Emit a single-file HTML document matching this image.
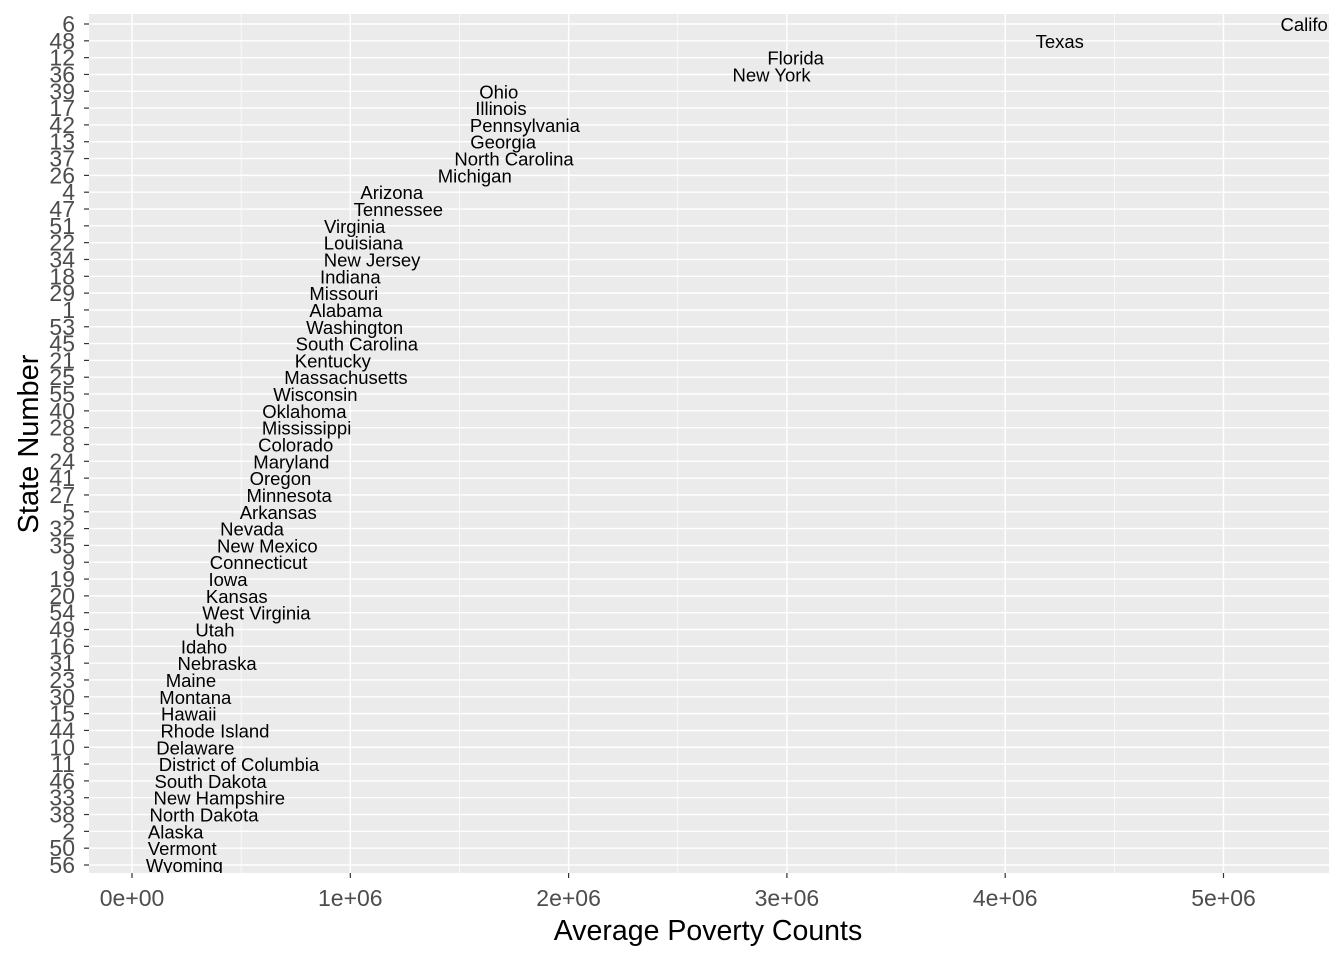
<!DOCTYPE html>
<html><head><meta charset="utf-8"><style>
body{margin:0;background:#fff;}
svg text{font-family:"Liberation Sans",Arial,sans-serif;}
</style></head><body>
<svg id="chart" width="1344" height="960" xmlns="http://www.w3.org/2000/svg">
<defs><clipPath id="pc"><rect x="89" y="14" width="1240" height="859"/></clipPath></defs>
<rect x="89" y="14" width="1240" height="859" fill="#EBEBEB"/>
<g id="grid"></g>
<g id="labels" clip-path="url(#pc)"></g>
<g id="yaxis"></g>
<g id="xaxis"></g>
<text x="708" y="940" font-size="28.5" text-anchor="middle" fill="#000">Average Poverty Counts</text>
<text transform="translate(38,444) rotate(-90)" font-size="29" text-anchor="middle" fill="#000">State Number</text>
</svg>
<script>
const stateNums=["6","48","12","36","39","17","42","13","37","26","4","47","51","22","34","18","29","1","53","45","21","25","55","40","28","8","24","41","27","5","32","35","9","19","20","54","49","16","31","23","30","15","44","10","11","46","33","38","2","50","56"];
const stateNames=["California","Texas","Florida","New York","Ohio","Illinois","Pennsylvania","Georgia","North Carolina","Michigan","Arizona","Tennessee","Virginia","Louisiana","New Jersey","Indiana","Missouri","Alabama","Washington","South Carolina","Kentucky","Massachusetts","Wisconsin","Oklahoma","Mississippi","Colorado","Maryland","Oregon","Minnesota","Arkansas","Nevada","New Mexico","Connecticut","Iowa","Kansas","West Virginia","Utah","Idaho","Nebraska","Maine","Montana","Hawaii","Rhode Island","Delaware","District of Columbia","South Dakota","New Hampshire","North Dakota","Alaska","Vermont","Wyoming"];
const povertyCounts=[5.44e6,4.25e6,3.04e6,2.93e6,1.68e6,1.69e6,1.80e6,1.70e6,1.75e6,1.57e6,1.19e6,1.22e6,1.02e6,1.06e6,1.10e6,1.00e6,0.97e6,0.98e6,1.02e6,1.03e6,0.92e6,0.98e6,0.84e6,0.79e6,0.80e6,0.75e6,0.73e6,0.68e6,0.72e6,0.67e6,0.55e6,0.62e6,0.58e6,0.44e6,0.48e6,0.57e6,0.38e6,0.33e6,0.39e6,0.27e6,0.29e6,0.26e6,0.38e6,0.29e6,0.49e6,0.36e6,0.40e6,0.33e6,0.20e6,0.23e6,0.24e6];
const xTicks=[0,1e6,2e6,3e6,4e6,5e6];
const xTickLabels=["0e+00","1e+06","2e+06","3e+06","4e+06","5e+06"];
const NS="http://www.w3.org/2000/svg";
const xS=v=>132+v*218.3/1e6;
const yS=i=>24+i*(841/(stateNums.length-1));
function mk(tag,attrs,parent,txt){const e=document.createElementNS(NS,tag);for(const k in attrs)e.setAttribute(k,attrs[k]);if(txt!=null)e.textContent=txt;parent.appendChild(e);return e;}
const grid=document.getElementById('grid'),lab=document.getElementById('labels'),ya=document.getElementById('yaxis'),xa=document.getElementById('xaxis');
for(let k=0;k<xTicks.length;k++){
  const mx=xS(xTicks[k]+5e5);
  if(mx<1329){const m=mk('line',{x1:mx,x2:mx,y1:14,y2:873,stroke:'#fff','stroke-width':0.7},grid);
  
  }
}
stateNums.forEach((s,i)=>{
  const y=yS(i);
  const g=mk('line',{x1:89,x2:1329,y1:y,y2:y,stroke:'#fff','stroke-width':1.4},grid);
  
  
  const t=mk('line',{x1:84,x2:89,y1:y,y2:y,stroke:'#333','stroke-width':1.2},ya);
  
  
  const tl=mk('text',{x:75,y:y+8,'font-size':23,'text-anchor':'end',fill:'#4D4D4D'},ya,s);
  
  
});
xTicks.forEach((v,k)=>{
  const x=xS(v);
  const g=mk('line',{x1:x,x2:x,y1:14,y2:873,stroke:'#fff','stroke-width':1.4},grid);
  
  
  const t=mk('line',{x1:x,x2:x,y1:873,y2:878,stroke:'#333','stroke-width':1.2},xa);
  
  
  const tl=mk('text',{x:x,y:906,'font-size':23,'text-anchor':'middle',fill:'#4D4D4D'},xa,xTickLabels[k]);
  
  
});
stateNames.forEach((n,i)=>{
  const t=mk('text',{x:xS(povertyCounts[i]),y:yS(i)+7,'font-size':18.5,'text-anchor':'middle',fill:'#000'},lab,n);
  
  
});
</script>
</body></html>
